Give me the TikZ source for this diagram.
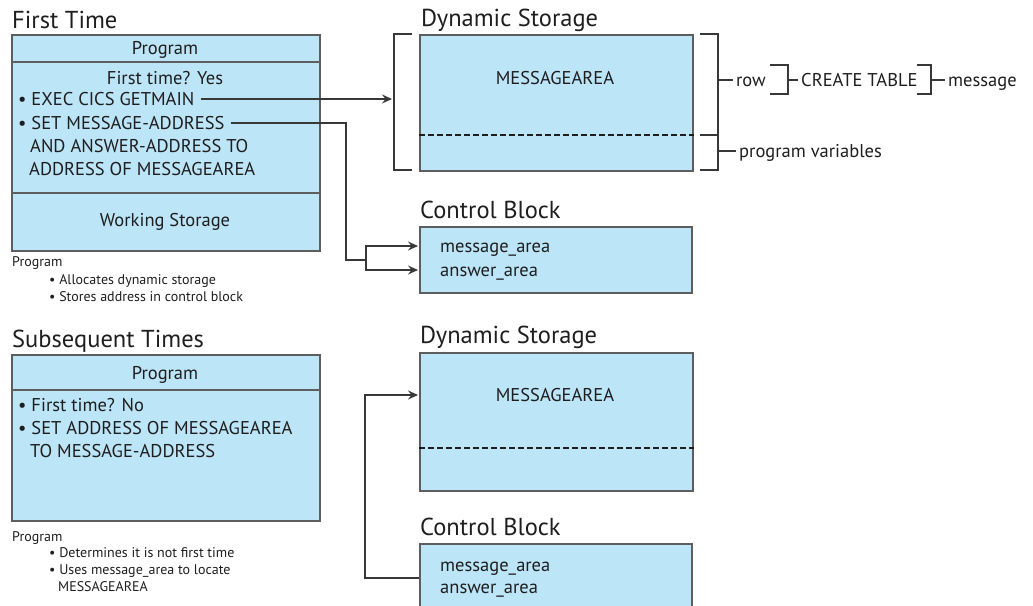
\documentclass[tikz,border=0pt]{standalone}
\usepackage{fontspec}
\setmainfont{PT Sans}
\usetikzlibrary{arrows.meta}
\definecolor{boxfill}{HTML}{BDE5F8}
\definecolor{boxline}{HTML}{5E5E5E}
\definecolor{ink}{HTML}{1E1E1E}
\definecolor{wire}{HTML}{383838}

\begin{document}
\begin{tikzpicture}[x=1pt,y=-1pt,
  panel/.style={draw=boxline, fill=boxfill, line width=1.6pt, inner sep=0pt, anchor=north west},
  title/.style={font=\fontsize{24.5}{28}\selectfont, text=ink, inner sep=0pt, anchor=base west},
  txt/.style={font=\fontsize{18.5}{22}\selectfont, text=ink, inner sep=0pt, text height=13pt, text depth=0pt},
  note/.style={font=\fontsize{14}{16}\selectfont, text=ink, inner sep=0pt, text height=9.8pt, text depth=0pt, anchor=west},
  lbl/.style={txt, anchor=west, inner xsep=3pt},
  wirel/.style={draw=wire, line width=1.5pt},
  arr/.style={wirel, -{Stealth[length=10pt,width=9pt,inset=3.5pt]}},
  brk/.style={draw=wire, line width=1.5pt},
  sep/.style={draw=boxline, line width=1.6pt},
  dashline/.style={draw=ink, line width=2.2pt, dash pattern=on 6pt off 3pt},
]
\useasboundingbox (0,0) rectangle (1033,605);
\clip (0,0) rectangle (1033,605);

% ---------- First time: program ----------
\node[title] (t1) at (12,28) {First Time};
\node[panel, minimum width=308pt, minimum height=216pt] (prog1) at (11,34) {};
\draw[sep] (prog1.west |- 0,62) -- (prog1.east |- 0,62);
\draw[sep] (prog1.west |- 0,193) -- (prog1.east |- 0,193);
\node[txt] (p1) at (165,48) {Program};
\node[txt] (q1) at (165,78) {First time? Yes};
\node[txt, anchor=west] (b1) at (18,99) {• EXEC CICS GETMAIN};
\node[txt, anchor=west] (b2) at (18,123) {• SET MESSAGE-ADDRESS};
\node[txt, anchor=west] (b3) at (30,146) {AND ANSWER-ADDRESS TO};
\node[txt, anchor=west] (b4) at (29,169) {ADDRESS OF MESSAGEAREA};
\node[txt] (ws1) at (165,220) {Working Storage};

\node[note] (n1) at (12,262) {Program};
\node[note] (n2) at (49,280) {• Allocates dynamic storage};
\node[note] (n3) at (49,297) {• Stores address in control block};

% ---------- First time: dynamic storage ----------
\node[title] (t2) at (421,26) {Dynamic Storage};
\node[panel, minimum width=273pt, minimum height=136pt] (ds1) at (419,34) {};
\draw[dashline] (ds1.west |- 0,135) -- (ds1.east |- 0,135);
\node[txt] (ma1) at (555,78) {MESSAGEAREA};

% brackets round the storage
\draw[brk] (412,34) -- (394,34) -- (394,170) -- (412,170);
\draw[brk] (700,34) -- (718,34) -- (718,170) -- (700,170);
\draw[brk] (700,135) -- (718,135);
\coordinate (dsin) at (392,99);

\node[lbl] (row) at (733,80) {row};
\draw[brk] (718,80) -- (row.west);
\draw[brk] (770,65) -- (788,65) -- (788,94) -- (770,94);
\node[lbl] (ct) at (798,80) {CREATE TABLE};
\draw[brk] (788,80) -- (ct.west);
\draw[brk] (917,65) -- (931,65) -- (931,94) -- (917,94);
\node[lbl] (msg) at (945,80) {message};
\draw[brk] (931,80) -- (msg.west);
\node[lbl] (pv) at (736,151) {program variables};
\draw[brk] (718,151) -- (pv.west);

% ---------- First time: control block ----------
\node[title] (t3) at (420,218) {Control Block};
\node[panel, minimum width=272pt, minimum height=66pt] (cb1) at (419,226) {};
\node[txt, anchor=west] (m1) at (440,246) {message\_area};
\node[txt, anchor=west] (a1) at (440,270) {answer\_area};

% connectors
\draw[arr] ([xshift=6pt]b1.east) -- (dsin);
\coordinate (bend1) at (346,260);
\coordinate (fork) at (366,260);
\draw[wirel] ([xshift=6pt]b2.east) -| (bend1) -- (fork);
\draw[arr] (fork) |- ([xshift=-1pt]cb1.west |- m1);
\draw[arr] (fork) |- ([xshift=-1pt]cb1.west |- a1);

% ---------- Subsequent times: program ----------
\node[title] (t4) at (12,347) {Subsequent Times};
\node[panel, minimum width=308pt, minimum height=166pt] (prog2) at (11,354) {};
\draw[sep] (prog2.west |- 0,390) -- (prog2.east |- 0,390);
\node[txt] (p2) at (165,373) {Program};
\node[txt, anchor=west] (c1) at (18,405) {• First time? No};
\node[txt, anchor=west] (c2) at (18,428) {• SET ADDRESS OF MESSAGEAREA};
\node[txt, anchor=west] (c3) at (30,451) {TO MESSAGE-ADDRESS};

\node[note] (n4) at (12,537) {Program};
\node[note] (n5) at (49,553) {• Determines it is not first time};
\node[note] (n6) at (49,570) {• Uses message\_area to locate};
\node[note] (n7) at (58,587) {MESSAGEAREA};

% ---------- Subsequent times: dynamic storage ----------
\node[title] (t5) at (420,343) {Dynamic Storage};
\node[panel, minimum width=273pt, minimum height=138pt] (ds2) at (419,352) {};
\draw[dashline] (ds2.west |- 0,448) -- (ds2.east |- 0,448);
\node[txt] (ma2) at (555,395) {MESSAGEAREA};

% ---------- Subsequent times: control block ----------
\node[title] (t6) at (420,535) {Control Block};
\node[panel, minimum width=272pt, minimum height=90pt] (cb2) at (419,543) {};
\node[txt, anchor=west] (m2) at (440,565) {message\_area};
\node[txt, anchor=west] (a2) at (440,587) {answer\_area};

\coordinate (cbport) at (419,578);
\coordinate (bend2) at (365,578);
\draw[arr] (cbport) -- (bend2) |- ([xshift=-1pt]ds2.west |- ma2);
\end{tikzpicture}
\end{document}
